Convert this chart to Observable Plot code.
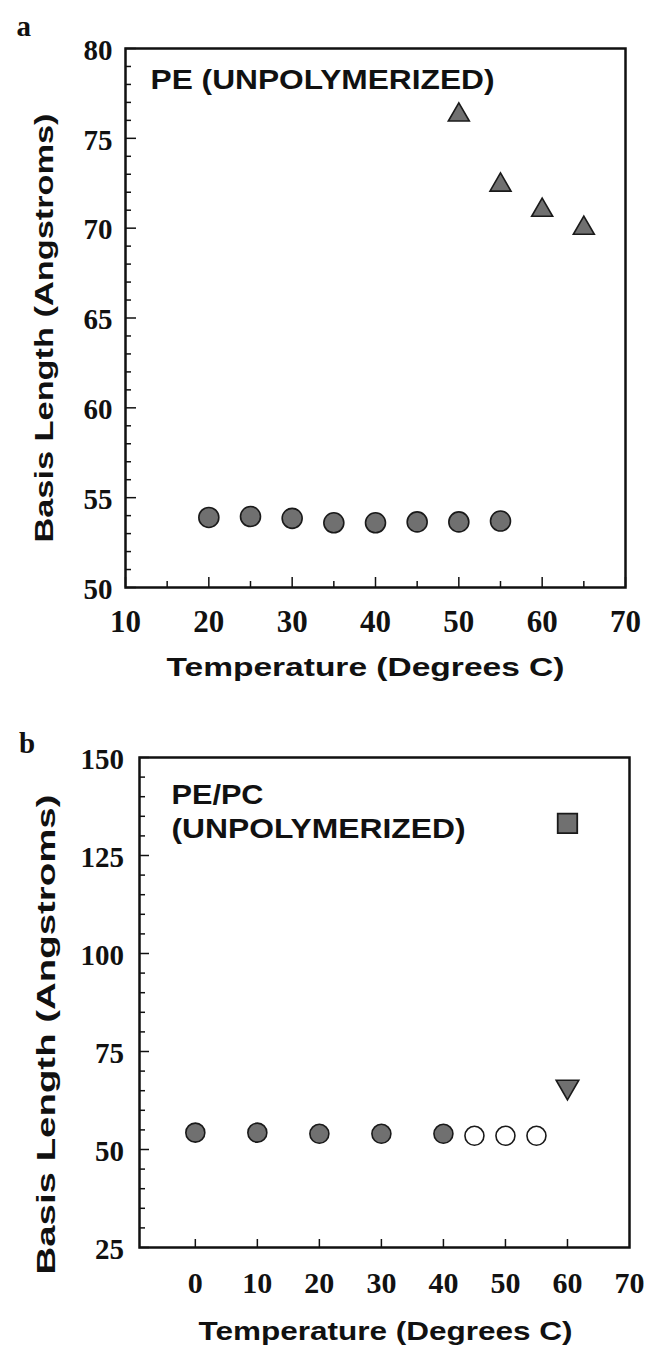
<!DOCTYPE html>
<html><head><meta charset="utf-8">
<script src="https://cdn.jsdelivr.net/npm/d3@7"></script>
<script src="https://cdn.jsdelivr.net/npm/@observablehq/plot@0.6"></script>
<style>
html,body{margin:0;padding:0;background:#fff}
body{width:645px;height:1345px;overflow:hidden;position:relative}
#a,#b{position:absolute;left:0}
#a{top:0}
#b{top:690px}
</style></head>
<body><div id="a"></div><div id="b"></div>
<script>
// ---------- Panel a data ----------
const tempA_circle = [20, 25, 30, 35, 40, 45, 50, 55];
const lenA_circle  = [53.9, 53.95, 53.85, 53.6, 53.6, 53.65, 53.65, 53.7];
const tempA_tri    = [50, 55, 60, 65];
const lenA_tri     = [76.3, 72.4, 71.0, 70.0];
const xTicksA      = [10, 20, 30, 40, 50, 60, 70];
const yTicksA      = [50, 55, 60, 65, 70, 75, 80];
const xMinorA      = [15, 25, 35, 45, 55, 65];
const yMinorA      = d3.range(51, 80).filter(v => v % 5 !== 0);

// ---------- Panel b data ----------
const tempB_filled = [0, 10, 20, 30, 40];
const lenB_filled  = [54.3, 54.3, 54.0, 54.0, 54.0];
const tempB_open   = [45, 50, 55];
const lenB_open    = [53.5, 53.5, 53.5];
const tempB_square = [60];
const lenB_square  = [133.2];
const tempB_down   = [60];
const lenB_down    = [66];
const xTicksB      = [0, 10, 20, 30, 40, 50, 60, 70];
const yTicksB      = [25, 50, 75, 100, 125, 150];
const yMinorB      = d3.range(30, 150, 5).filter(v => v % 25 !== 0);

const SERIF = "'Liberation Serif','Times New Roman',serif";
const SANS  = "'Liberation Sans',Arial,Helvetica,sans-serif";
const FILL = "#707070", EDGE = "#1a1a1a";

const triDown = {
  draw(context, size) {
    const y = Math.sqrt(size / (3 * Math.sqrt(3)));
    context.moveTo(0, 2 * y);
    context.lineTo(Math.sqrt(3) * y, -y);
    context.lineTo(-Math.sqrt(3) * y, -y);
    context.closePath();
  }
};

function fit(svg, str, len) {
  d3.select(svg).selectAll("text")
    .filter(function() { return this.textContent === str; })
    .attr("textLength", len).attr("lengthAdjust", "spacingAndGlyphs");
}

const idx = a => a.map((_, i) => i);

// ---------- Panel a ----------
{
  const W = 645, H = 690, mL = 125, mR = 20, mT = 48, mB = 103;
  const fw = W - mL - mR, fh = H - mT - mB;
  const svg = Plot.plot({
    width: W, height: H,
    marginLeft: mL, marginRight: mR, marginTop: mT, marginBottom: mB,
    style: {background: "#fff", overflow: "visible", color: "#111"},
    x: {domain: [10, 70]},
    y: {domain: [50, 80]},
    marks: [
      Plot.tickY(yMinorA, {y: d => d, insetRight: fw - 6, stroke: "#111", strokeWidth: 1.5}),
      Plot.tickY(yTicksA, {y: d => d, insetRight: fw - 11, stroke: "#111", strokeWidth: 1.5}),
      Plot.tickX(xMinorA, {x: d => d, insetTop: fh - 6, stroke: "#111", strokeWidth: 1.5}),
      Plot.tickX(xTicksA, {x: d => d, insetTop: fh - 10, stroke: "#111", strokeWidth: 1.5}),
      Plot.frame({stroke: "#111", strokeWidth: 2.5}),
      Plot.axisY({ticks: yTicksA, tickSize: 0, tickPadding: 13, label: null, dy: 2,
        fontSize: 29, fontFamily: SERIF, fontWeight: "bold"}),
      Plot.axisX({ticks: xTicksA, tickSize: 0, tickPadding: 22, label: null,
        fontSize: 31, fontFamily: SERIF, fontWeight: "bold"}),
      Plot.dot(idx(tempA_circle), {x: i => tempA_circle[i], y: i => lenA_circle[i], r: 10,
        fill: FILL, stroke: EDGE, strokeWidth: 1.6}),
      Plot.dot(idx(tempA_tri), {x: i => tempA_tri[i], y: i => lenA_tri[i], r: 7.8, symbol: "triangle",
        fill: FILL, stroke: EDGE, strokeWidth: 1.6}),
      Plot.text(["a"], {text: d => d, frameAnchor: "top-left", dx: -109, dy: -13,
        textAnchor: "start", lineAnchor: "bottom", fontSize: 29, fontFamily: SERIF, fontWeight: "bold"}),
      Plot.text(["PE (UNPOLYMERIZED)"], {text: d => d, frameAnchor: "top-left", dx: 25, dy: 40,
        textAnchor: "start", lineAnchor: "bottom", fontSize: 28, fontFamily: SANS, fontWeight: "bold"}),
      Plot.text(["Temperature (Degrees C)"], {text: d => d, frameAnchor: "bottom", dx: -10, dy: 88,
        textAnchor: "middle", lineAnchor: "bottom", fontSize: 25, fontFamily: SANS, fontWeight: "bold"}),
      Plot.text(["Basis Length (Angstroms)"], {text: d => d, frameAnchor: "left", dx: -73, dy: 10, rotate: -90,
        textAnchor: "middle", lineAnchor: "bottom", fontSize: 26, fontFamily: SANS, fontWeight: "bold"})
    ]
  });
  fit(svg, "PE (UNPOLYMERIZED)", 344);
  fit(svg, "Temperature (Degrees C)", 398);
  fit(svg, "Basis Length (Angstroms)", 429);
  document.getElementById("a").append(svg);
}

// ---------- Panel b ----------
{
  const W = 645, H = 655, mL = 139, mR = 16, mT = 67, mB = 98;
  const fw = W - mL - mR, fh = H - mT - mB;
  const svg = Plot.plot({
    width: W, height: H,
    marginLeft: mL, marginRight: mR, marginTop: mT, marginBottom: mB,
    style: {background: "#fff", overflow: "visible", color: "#111"},
    x: {domain: [-9, 70]},
    y: {domain: [25, 150]},
    marks: [
      Plot.tickY(yMinorB, {y: d => d, insetRight: fw - 6, stroke: "#111", strokeWidth: 1.5}),
      Plot.tickY(yTicksB, {y: d => d, insetRight: fw - 10, stroke: "#111", strokeWidth: 1.5}),
      Plot.tickX(xTicksB.filter(v => v < 70), {x: d => d, insetTop: fh - 8, stroke: "#111", strokeWidth: 1.5}),
      Plot.frame({stroke: "#111", strokeWidth: 2.5}),
      Plot.axisY({ticks: yTicksB, tickSize: 0, tickPadding: 15.5, label: null, dy: 2,
        fontSize: 29, fontFamily: SERIF, fontWeight: "bold"}),
      Plot.axisX({ticks: xTicksB, tickSize: 0, tickPadding: 24, label: null,
        fontSize: 30, fontFamily: SERIF, fontWeight: "bold"}),
      Plot.dot(idx(tempB_filled), {x: i => tempB_filled[i], y: i => lenB_filled[i], r: 9.5,
        fill: FILL, stroke: EDGE, strokeWidth: 1.6}),
      Plot.dot(idx(tempB_open), {x: i => tempB_open[i], y: i => lenB_open[i], r: 9.5,
        fill: "#fff", stroke: EDGE, strokeWidth: 1.6}),
      Plot.dot(idx(tempB_square), {x: i => tempB_square[i], y: i => lenB_square[i], r: 11, symbol: "square",
        fill: FILL, stroke: EDGE, strokeWidth: 1.8}),
      Plot.dot(idx(tempB_down), {x: i => tempB_down[i], y: i => lenB_down[i], r: 8.4, symbol: triDown,
        fill: FILL, stroke: EDGE, strokeWidth: 1.6}),
      Plot.text(["b"], {text: d => d, frameAnchor: "top-left", dx: -120.5, dy: -5,
        textAnchor: "start", lineAnchor: "bottom", fontSize: 29, fontFamily: SERIF, fontWeight: "bold"}),
      Plot.text(["PE/PC"], {text: d => d, frameAnchor: "top-left", dx: 32, dy: 46,
        textAnchor: "start", lineAnchor: "bottom", fontSize: 28, fontFamily: SANS, fontWeight: "bold"}),
      Plot.text(["(UNPOLYMERIZED)"], {text: d => d, frameAnchor: "top-left", dx: 32, dy: 80,
        textAnchor: "start", lineAnchor: "bottom", fontSize: 28, fontFamily: SANS, fontWeight: "bold"}),
      Plot.text(["Temperature (Degrees C)"], {text: d => d, frameAnchor: "bottom", dx: 1, dy: 92.5,
        textAnchor: "middle", lineAnchor: "bottom", fontSize: 25, fontFamily: SANS, fontWeight: "bold"}),
      Plot.text(["Basis Length (Angstroms)"], {text: d => d, frameAnchor: "left", dx: -85, dy: 32, rotate: -90,
        textAnchor: "middle", lineAnchor: "bottom", fontSize: 26, fontFamily: SANS, fontWeight: "bold"})
    ]
  });
  fit(svg, "PE/PC", 92);
  fit(svg, "(UNPOLYMERIZED)", 294);
  fit(svg, "Temperature (Degrees C)", 374);
  fit(svg, "Basis Length (Angstroms)", 480);
  document.getElementById("b").append(svg);
}
</script>
</body></html>
